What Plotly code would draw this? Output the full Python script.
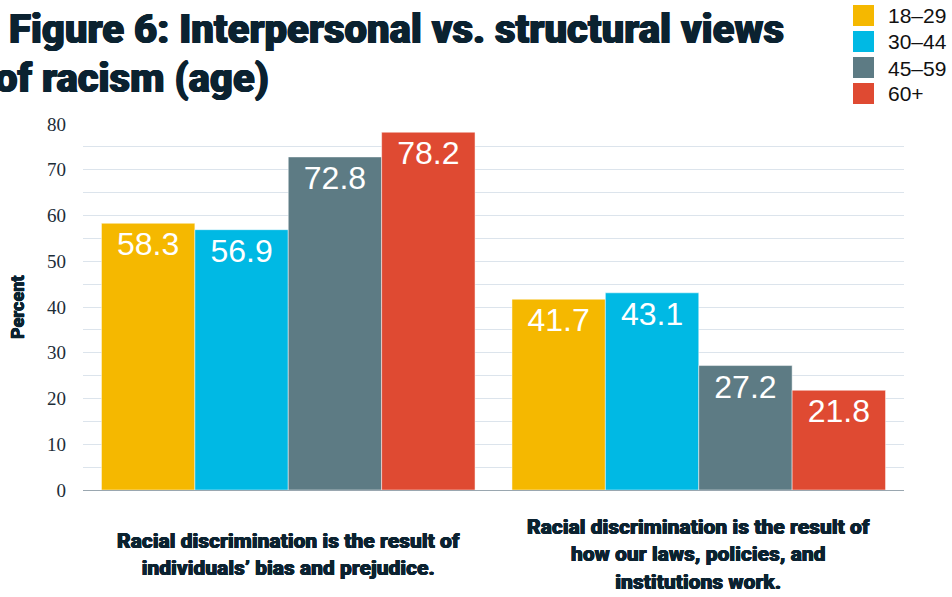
import plotly.graph_objects as go

categories = [
    "Racial discrimination is the result of<br>individuals’ bias and prejudice.",
    "Racial discrimination is the result of<br>how our laws, policies, and<br>institutions work.",
]
cat_keys = ["interpersonal", "structural"]
series_names = ["18–29", "30–44", "45–59", "60+"]
series_values = [
    [58.3, 41.7],
    [56.9, 43.1],
    [72.8, 27.2],
    [78.2, 21.8],
]
series_colors = ["#F5B800", "#00B9E4", "#5D7B84", "#DF4A32"]
y_ticks = [0, 10, 20, 30, 40, 50, 60, 70, 80]
title_lines = ["Figure 6: Interpersonal vs. structural views", "of racism (age)"]
y_title = "Percent"

W, H = 952, 597
L, R, T, B = 83, 48, 124, 107
PW, PH = W - L - R, H - T - B

def px_x(px):
    return (px - L) / PW

def px_y(py):
    return (H - B - py) / PH

NAVY = "#0B2230"
HEAVY = "Roboto"

def thick(w):
    return f"{w}px 0 0 {NAVY}, -{w}px 0 0 {NAVY}, 0 {w/2}px 0 {NAVY}"

fig = go.Figure()
for name, vals, col in zip(series_names, series_values, series_colors):
    fig.add_trace(go.Bar(
        name=name, x=cat_keys, y=vals,
        marker=dict(color=col, line=dict(color="rgba(255,255,255,0.6)", width=0.8)),
        texttemplate="%{y:.1f}", textposition="inside", insidetextanchor="end",
        textangle=0, constraintext="none",
        textfont=dict(family="Liberation Sans", size=32, color="white"),
        showlegend=False, hoverinfo="skip",
    ))

annotations = []
for key, label in zip(cat_keys, categories):
    annotations.append(dict(
        x=key, xref="x", y=px_y(554), yref="paper", text=label, showarrow=False,
        xanchor="center", yanchor="middle", align="center",
        font=dict(family=HEAVY, size=21, color=NAVY, weight=900, shadow=thick(0.4)),
    ))
annotations.append(dict(
    x=0, xref="paper", xshift=-76, y=px_y(30), yref="paper", text=title_lines[0],
    showarrow=False, xanchor="left", yanchor="middle",
    font=dict(family=HEAVY, size=40, color=NAVY, weight=900, shadow=thick(0.7)),
))
annotations.append(dict(
    x=0, xref="paper", xshift=-90, y=px_y(78), yref="paper", text=title_lines[1],
    showarrow=False, xanchor="left", yanchor="middle",
    font=dict(family=HEAVY, size=40, color=NAVY, weight=900, shadow=thick(0.7)),
))
annotations.append(dict(
    x=px_x(17), xref="paper", y=0.5, yref="paper", text=y_title, textangle=-90,
    showarrow=False, xanchor="center", yanchor="middle",
    font=dict(family=HEAVY, size=18, color=NAVY, weight=900, shadow=thick(0.3)),
))

shapes = []
for i, (name, col) in enumerate(zip(series_names, series_colors)):
    top = 5 + 26 * i
    shapes.append(dict(
        type="rect", xref="paper", yref="paper",
        x0=px_x(853), x1=px_x(874), y0=px_y(top + 21), y1=px_y(top),
        fillcolor=col, line=dict(width=0),
    ))
    annotations.append(dict(
        x=px_x(886), xref="paper", y=px_y(top + 11), yref="paper", text=name,
        showarrow=False, xanchor="left", yanchor="middle",
        font=dict(family="Liberation Sans", size=21, color="#111111"),
    ))

fig.update_layout(
    width=W, height=H,
    margin=dict(l=L, r=R, t=T, b=B, pad=0),
    paper_bgcolor="white", plot_bgcolor="white",
    barmode="group", bargap=0.09, bargroupgap=0,
    annotations=annotations, shapes=shapes,
    showlegend=False,
)
fig.update_xaxes(showticklabels=False, showgrid=False, showline=False, ticks="", fixedrange=True)
fig.update_yaxes(
    range=[0, 80], tickvals=y_ticks, showgrid=True, gridcolor="#DCE4EC", gridwidth=1,
    minor=dict(dtick=5, showgrid=True, gridcolor="#DCE4EC", gridwidth=1),
    zeroline=True, zerolinecolor="#9AA7B0", zerolinewidth=1,
    showline=False, ticks="", ticklabelstandoff=16,
    tickfont=dict(family="Liberation Serif", size=19, color="#1C2D38"),
)

fig.write_html("out.html")
